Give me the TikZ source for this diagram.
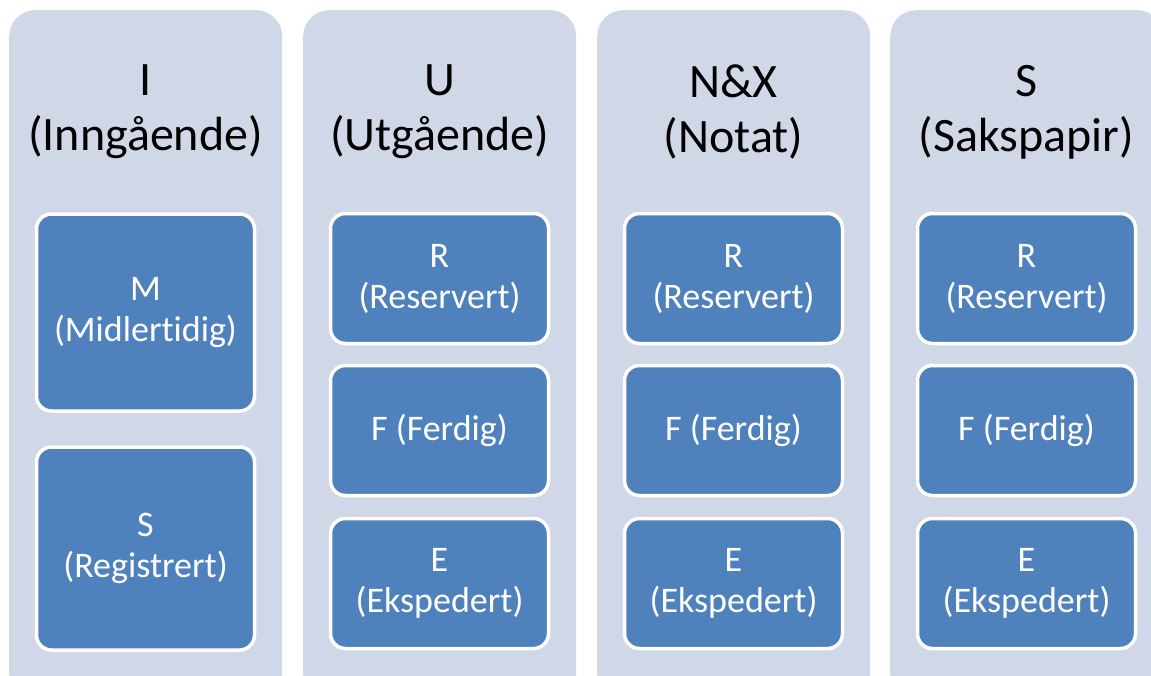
\documentclass[tikz,border=0pt]{standalone}
\usepackage{fontspec}
\setmainfont{Carlito}[Ligatures={NoCommon}]
\definecolor{colbg}{HTML}{D0D8E8}
\definecolor{boxbg}{HTML}{4F81BD}
\begin{document}
\begin{tikzpicture}[x=1pt,y=-1pt,
  colbox/.style={fill=colbg, rounded corners=26pt, inner sep=0pt, minimum width=273pt, minimum height=690pt, anchor=north west},
  titletext/.style={font=\fontsize{48}{55}\selectfont, align=center, text=black, inner sep=0pt},
  itembox/.style={draw=white, line width=3.5pt, fill=boxbg, rounded corners=15pt, minimum width=218pt, text=white, font=\fontsize{36}{41}\selectfont, align=center, inner sep=0pt}]
\useasboundingbox (0,0) rectangle (1151,675);
\clip (0,0) rectangle (1151,675);
% columns
\node[colbox] (c1) at (9,10) {};
\node[colbox] (c2) at (303,10) {};
\node[colbox] (c3) at (597,10) {};
\node[colbox] (c4) at (890,10) {};
% titles
\node[titletext] (t1) at (145.5,112) {I\\(Inngående)};
\node[titletext] (t2) at (439.5,112) {U\\(Utgående)};
\node[titletext] (t3) at (733.5,112) {N\&X\\(Notat)};
\node[titletext] (t4) at (1026.5,112) {S\\(Sakspapir)};
% column 1
\node[itembox, minimum height=197pt] (m1) at (145.5,312.5) {M\\(Midlertidig)};
\node[itembox, minimum height=203pt] (s1) at (145.5,548.5) {S\\(Registrert)};
% column 2
\node[itembox, minimum height=130pt] (r2) at (439.5,278.5) {R\\(Reservert)};
\node[itembox, minimum height=130pt] (f2) at (439.5,430.5) {F (Ferdig)};
\node[itembox, minimum height=130pt] (e2) at (439.5,583.5) {E\\(Ekspedert)};
% column 3
\node[itembox, minimum height=130pt] (r3) at (733.5,278.5) {R\\(Reservert)};
\node[itembox, minimum height=130pt] (f3) at (733.5,430.5) {F (Ferdig)};
\node[itembox, minimum height=130pt] (e3) at (733.5,583.5) {E\\(Ekspedert)};
% column 4
\node[itembox, minimum height=130pt] (r4) at (1026.5,278.5) {R\\(Reservert)};
\node[itembox, minimum height=130pt] (f4) at (1026.5,430.5) {F (Ferdig)};
\node[itembox, minimum height=130pt] (e4) at (1026.5,583.5) {E\\(Ekspedert)};
\end{tikzpicture}
\end{document}
